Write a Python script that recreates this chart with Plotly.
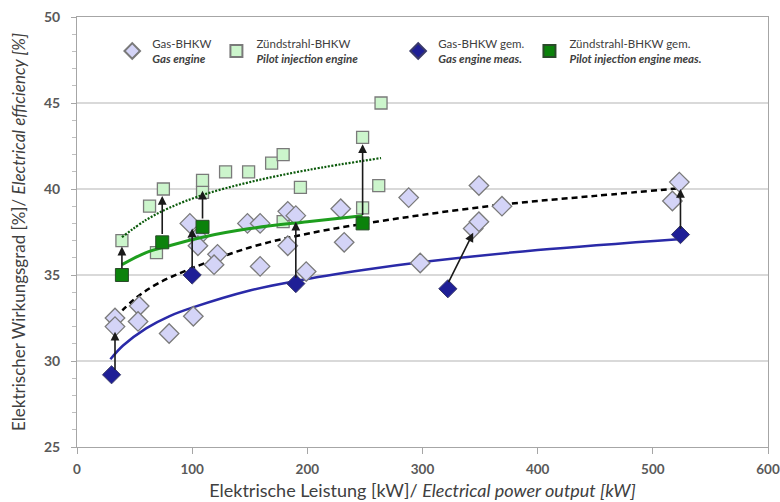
import plotly.graph_objects as go

# ---------------- data ----------------
# Gas-BHKW / Gas engine (open lavender diamonds)
gas_x = [33, 33, 54, 53, 80, 101, 98, 105, 105, 122, 119, 148, 159, 159, 183, 190, 183, 199,
         229, 232, 288, 298, 344, 349, 349, 369, 517, 523]
gas_y = [32.5, 32.0, 33.2, 32.3, 31.6, 32.6, 38.0, 37.2, 36.7, 36.2, 35.6, 38.0, 38.0, 35.5,
         38.7, 38.45, 36.7, 35.2, 38.85, 36.9, 39.5, 35.7, 37.7, 38.1, 40.2, 39.0, 39.3, 40.4]

# Zündstrahl-BHKW / Pilot injection engine (light green squares)
pil_x = [39, 63, 69, 75, 109, 109, 129, 149, 169, 179, 179, 194, 248, 248, 262, 264]
pil_y = [37.0, 39.0, 36.3, 40.0, 39.8, 40.5, 41.0, 41.0, 41.5, 42.0, 38.1, 40.1, 43.0, 38.9, 40.2, 45.0]

# Gas-BHKW gem. / Gas engine meas. (dark blue diamonds)
gasm_x = [30, 100, 190, 322, 524]
gasm_y = [29.2, 35.0, 34.5, 34.2, 37.35]

# Zündstrahl-BHKW gem. / Pilot injection engine meas. (dark green squares)
pilm_x = [39, 74, 109, 248]
pilm_y = [35.0, 36.9, 37.8, 38.0]

# trend curves
tr_pil_x = [39, 60, 80, 109, 150, 200, 264]
tr_pil_y = [37.2, 38.2, 38.9, 39.65, 40.4, 41.1, 41.8]
tr_pilm_x = [39, 60, 80, 109, 150, 200, 248]
tr_pilm_y = [35.6, 36.3, 36.7, 37.2, 37.7, 38.1, 38.45]
tr_gas_x = [33, 50, 70, 100, 150, 200, 280, 370, 450, 525]
tr_gas_y = [32.5, 33.6, 34.5, 35.4, 36.6, 37.4, 38.3, 39.1, 39.6, 40.05]
tr_gasm_x = [29, 40, 60, 80, 100, 150, 190, 250, 300, 400, 525]
tr_gasm_y = [30.1, 30.9, 31.9, 32.6, 33.1, 34.1, 34.65, 35.3, 35.75, 36.45, 37.1]

# arrows: tail (x, y) -> head (x, y)
arr_x0 = [39, 74, 109, 248, 33, 100, 190, 322, 524]
arr_y0 = [35.3, 37.3, 38.2, 38.4, 29.4, 35.3, 34.75, 34.5, 37.6]
arr_x1 = [39, 74, 109, 248, 33, 100, 190, 344, 524]
arr_y1 = [36.65, 39.6, 39.9, 42.6, 31.7, 37.7, 38.1, 37.45, 40.0]

x_ticks = [0, 100, 200, 300, 400, 500, 600]
y_ticks = [25, 30, 35, 40, 45, 50]

FONT = "Lato"
GREY = "#595959"
NB = "\u00a0"

fig = go.Figure()

# trend lines
fig.add_trace(go.Scatter(x=tr_gasm_x, y=tr_gasm_y, mode="lines", line_shape="spline",
                         line=dict(color="#2a2aa8", width=2.5), showlegend=False, hoverinfo="skip"))
fig.add_trace(go.Scatter(x=tr_gas_x, y=tr_gas_y, mode="lines", line_shape="spline",
                         line=dict(color="black", width=2.5, dash="6px,4px"), showlegend=False, hoverinfo="skip"))

# open markers first
fig.add_trace(go.Scatter(x=pil_x, y=pil_y, mode="markers", legendrank=2,
                         name="Zündstrahl-BHKW<br><i><b>Pilot injection engine</b></i>" + NB * 12,
                         marker=dict(symbol="square", size=12, color="#ccf5cc",
                                     line=dict(color="#7a7a7a", width=1.3))))
fig.add_trace(go.Scatter(x=gas_x, y=gas_y, mode="markers", legendrank=1,
                         name="Gas-BHKW<br><i><b>Gas engine</b></i>" + NB * 2,
                         marker=dict(symbol="diamond", size=15, color="#d4d4f7",
                                     line=dict(color="#7a7a7a", width=1.3))))

fig.add_trace(go.Scatter(x=tr_pilm_x, y=tr_pilm_y, mode="lines", line_shape="spline",
                         line=dict(color="#1e9e1e", width=3), showlegend=False, hoverinfo="skip"))
fig.add_trace(go.Scatter(x=tr_pil_x, y=tr_pil_y, mode="lines", line_shape="spline",
                         line=dict(color="#0b5a0b", width=2.2, dash="2px,1.5px"), showlegend=False, hoverinfo="skip"))

fig.add_trace(go.Scatter(x=gasm_x, y=gasm_y, mode="markers", legendrank=3,
                         name="Gas-BHKW gem.<br><i><b>Gas engine meas.</b></i>",
                         marker=dict(symbol="diamond", size=14, color="#1f1f96",
                                     line=dict(color="#3a3a6a", width=1))))
fig.add_trace(go.Scatter(x=pilm_x, y=pilm_y, mode="markers", legendrank=4,
                         name="Zündstrahl-BHKW gem.<br><i><b>Pilot injection engine meas.</b></i>",
                         marker=dict(symbol="square", size=13, color="#0b820b",
                                     line=dict(color="#2a4a2a", width=1))))

for x0, y0, x1, y1 in zip(arr_x0, arr_y0, arr_x1, arr_y1):
    fig.add_annotation(x=x1, y=y1, ax=x0, ay=y0, xref="x", yref="y", axref="x", ayref="y",
                       showarrow=True, arrowhead=2, arrowsize=1.1, arrowwidth=1.6,
                       arrowcolor="#1a1a1a", text="")

fig.update_layout(
    width=780, height=502,
    margin=dict(l=77, r=12, t=17, b=55),
    paper_bgcolor="white", plot_bgcolor="white",
    font=dict(family=FONT, color=GREY, size=12),
    legend=dict(orientation="h", x=0.051, y=0.971, xanchor="left", yanchor="top",
                font=dict(family=FONT, size=11.5, color="#404040"),
                bgcolor="rgba(0,0,0,0)", itemwidth=30, itemsizing="constant", tracegroupgap=0),
    xaxis=dict(range=[0, 600], tickvals=x_ticks, showgrid=False, zeroline=False, automargin=False,
               showline=True, linecolor="#a6a6a6", linewidth=1, mirror=True,
               ticks="outside", ticklen=6, tickcolor="#a6a6a6", ticklabelstandoff=4,
               ticklabeloverflow="allow",
               tickfont=dict(family=FONT, size=13.5, color=GREY, weight="bold"),
               title=dict(text="Elektrische Leistung [kW]/ <i>Electrical power output [kW]</i>",
                          font=dict(family=FONT, size=18, color="#404040"), standoff=8)),
    yaxis=dict(range=[25, 50], tickvals=y_ticks, showgrid=True, gridcolor="#d9d9d9", gridwidth=1.5,
               zeroline=False, showline=True, linecolor="#a6a6a6", linewidth=1, mirror=True,
               automargin=False, ticklabeloverflow="allow",
               ticks="outside", ticklen=5, tickcolor="#a6a6a6", ticklabelstandoff=8,
               minor=dict(dtick=1, ticks="outside", ticklen=4, tickcolor="#bfbfbf", showgrid=False),
               tickfont=dict(family=FONT, size=14, color=GREY, weight="bold"),
               title=dict(text="Elektrischer Wirkungsgrad [%]/ <i>Electrical efficiency [%]</i>",
                          font=dict(family=FONT, size=17, color="#404040"), standoff=14)),
)

# remove the default page margin so the 780x502 figure fills the window exactly
fig.write_html("out.html", config={"displayModeBar": False},
               post_script="document.body.style.margin='0';document.body.style.overflow='hidden';")
